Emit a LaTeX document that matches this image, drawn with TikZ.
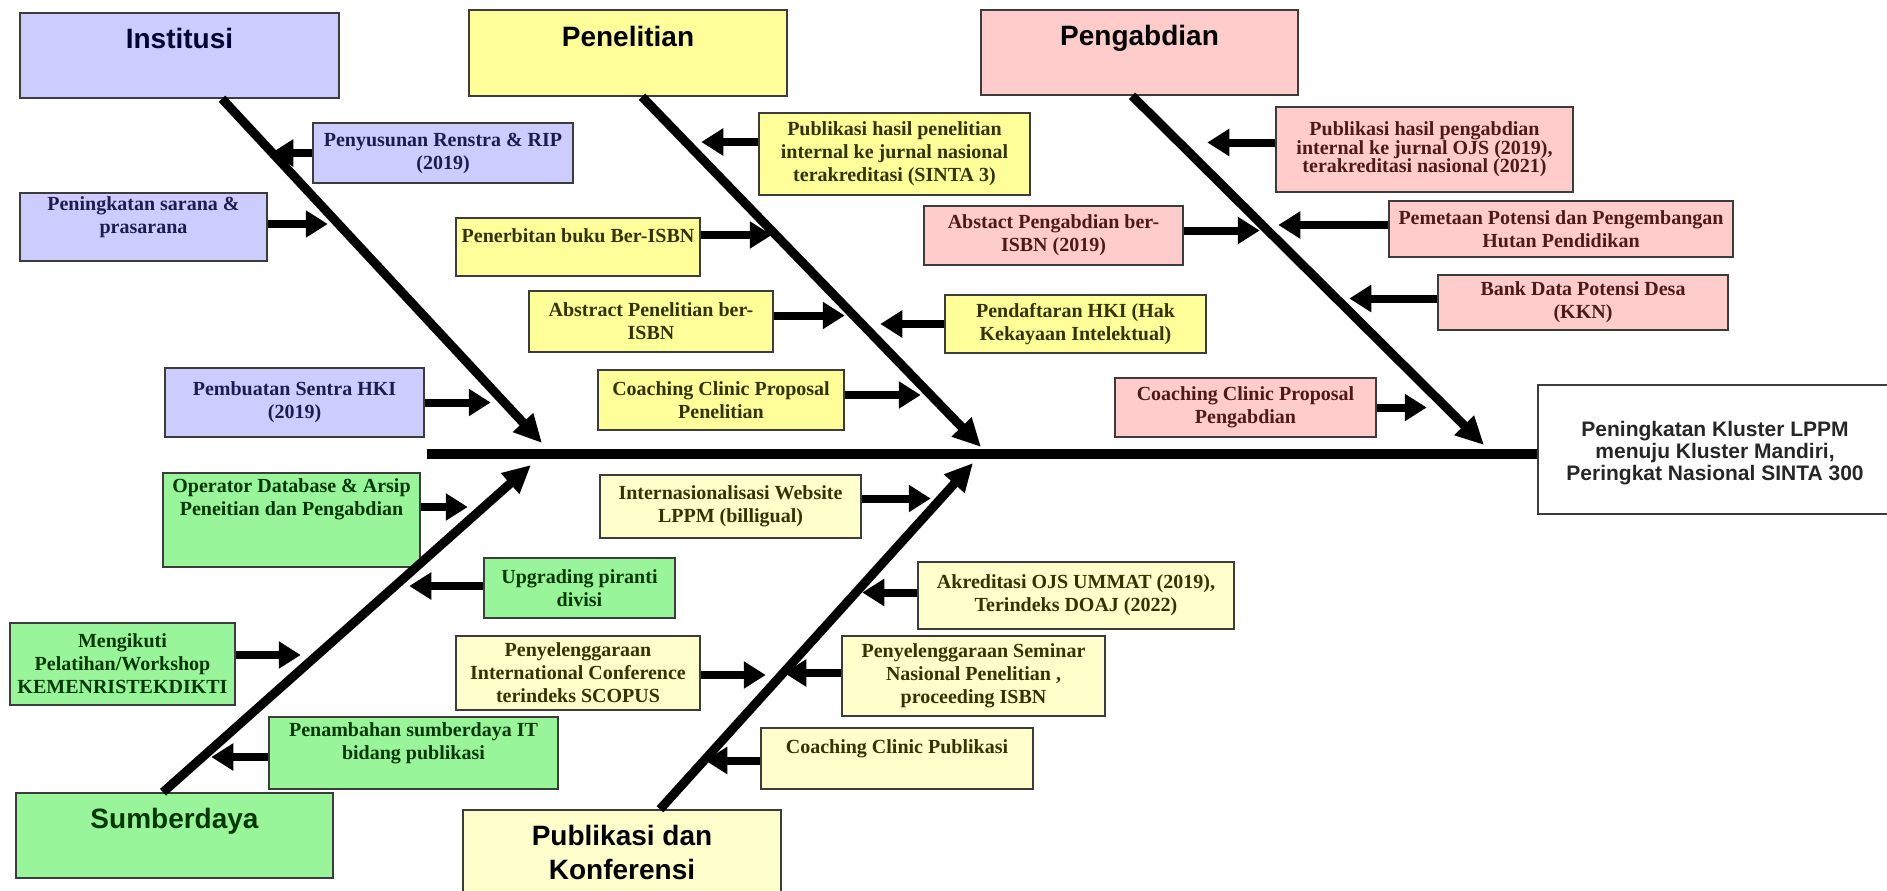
\documentclass[tikz,border=0pt]{standalone}
\usepackage{fontspec}
\setmainfont{Liberation Serif}
\newfontfamily\headfont{Liberation Sans}
\usetikzlibrary{arrows.meta}
\definecolor{instfill}{RGB}{204,204,255}
\definecolor{insttext}{RGB}{28,28,80}
\definecolor{penfill}{RGB}{255,255,153}
\definecolor{pentext}{RGB}{51,51,0}
\definecolor{abdfill}{RGB}{255,204,204}
\definecolor{abdtext}{RGB}{80,25,25}
\definecolor{sdmfill}{RGB}{153,245,153}
\definecolor{sdmtext}{RGB}{0,55,0}
\definecolor{pubfill}{RGB}{255,255,204}
\definecolor{pubtext}{RGB}{51,51,0}
\definecolor{boxline}{RGB}{60,60,60}

\begin{document}
\begin{tikzpicture}[x=1pt,y=-1pt,
  box/.style={draw=boxline,line width=1.5pt,inner sep=2pt,align=center,
    font=\fontsize{20}{23}\selectfont\bfseries},
  head/.style={box,font=\headfont\fontsize{28}{34}\selectfont\bfseries},
  inst/.style={fill=instfill,text=insttext},
  pen/.style={fill=penfill,text=pentext},
  abd/.style={fill=abdfill,text=abdtext},
  sdm/.style={fill=sdmfill,text=sdmtext},
  pub/.style={fill=pubfill,text=pubtext},
  bone/.style={line width=9pt,-{Triangle[length=28pt,width=26pt]}},
  side/.style={line width=8pt,-{Triangle[length=22pt,width=26pt]}}]
\useasboundingbox (0,0) rectangle (1887,891);
\clip (0,0) rectangle (1887,891);
\fill[white] (0,0) rectangle (1887,891);

% kepala tulang
\node[head,inst,text=black!80!blue,minimum width=319pt,minimum height=85pt] (inst) at (179.5,55.5) {Institusi\\ \mbox{}};
\node[head,pen,text=black,minimum width=318pt,minimum height=86pt] (pen) at (628,53) {Penelitian\\ \mbox{}};
\node[head,abd,text=black,minimum width=317pt,minimum height=85pt] (abd) at (1139.5,52.5) {Pengabdian\\ \mbox{}};
\node[head,sdm,text=sdmtext,minimum width=317pt,minimum height=85pt] (sdm) at (174.5,835.5) {Sumberdaya\\ \mbox{}};
\node[head,pub,text=black,minimum width=318pt,minimum height=85pt] (pub) at (622,852.5) {Publikasi dan\\Konferensi};
\node[box,fill=white,text=black!85,minimum width=354pt,minimum height=129pt,
  font=\headfont\fontsize{21}{22}\selectfont\bfseries] (goal) at (1715,449.5)
  {\mbox{}\\Peningkatan Kluster LPPM\\menuju Kluster Mandiri,\\Peringkat Nasional SINTA 300};

% Institusi
\node[box,inst,minimum width=260pt,minimum height=60pt] (renstra) at (443,153) {Penyusunan Renstra \& RIP\\(2019)};
\node[box,inst,minimum width=247pt,minimum height=68pt] (sarana) at (143.5,227) {Peningkatan sarana \&\\prasarana\\ \mbox{}};
\node[box,inst,minimum width=259pt,minimum height=69pt] (sentra) at (294.5,402.5) {Pembuatan Sentra HKI\\(2019)};

% Penelitian
\node[box,pen,minimum width=271pt,minimum height=82pt] (pubpen) at (894.5,154) {Publikasi hasil penelitian\\internal ke jurnal nasional\\terakreditasi (SINTA 3)};
\node[box,pen,minimum width=244pt,minimum height=58pt] (buku) at (578,247) {Penerbitan buku Ber-ISBN\\ \mbox{}};
\node[box,pen,minimum width=244pt,minimum height=61pt] (abspen) at (651,321.5) {Abstract Penelitian ber-\\ISBN};
\node[box,pen,minimum width=246pt,minimum height=60pt] (ccpen) at (721,400) {Coaching Clinic Proposal\\Penelitian};
\node[box,pen,minimum width=261pt,minimum height=58pt] (hki) at (1075.5,324) {Pendaftaran HKI (Hak\\Kekayaan Intelektual)};

% Pengabdian
\node[box,abd,minimum width=297pt,minimum height=85pt,font=\fontsize{20}{18.5}\selectfont\bfseries] (pubabd) at (1424.5,149.5) {Publikasi hasil pengabdian\\internal ke jurnal OJS (2019),\\terakreditasi nasional (2021)};
\node[box,abd,minimum width=259pt,minimum height=59pt] (absabd) at (1053.5,235.5) {Abstact Pengabdian ber-\\ISBN (2019)};
\node[box,abd,minimum width=344pt,minimum height=56pt] (hutan) at (1561,229) {Pemetaan Potensi dan Pengembangan\\Hutan Pendidikan};
\node[box,abd,minimum width=290pt,minimum height=55pt] (bank) at (1583,302.5) {Bank Data Potensi Desa\\(KKN)};
\node[box,abd,minimum width=261pt,minimum height=59pt] (ccabd) at (1245.5,407.5) {Coaching Clinic Proposal\\Pengabdian};

% Sumberdaya
\node[box,sdm,minimum width=257pt,minimum height=94pt] (operator) at (291.5,520) {Operator Database \& Arsip\\Peneitian dan Pengabdian\\ \mbox{}\\ \mbox{}};
\node[box,sdm,minimum width=191pt,minimum height=60pt] (upgrade) at (579.5,588) {Upgrading piranti\\divisi};
\node[box,sdm,minimum width=225pt,minimum height=82pt] (workshop) at (122.5,664) {Mengikuti\\Pelatihan/Workshop\\KEMENRISTEKDIKTI};
\node[box,sdm,minimum width=289pt,minimum height=72pt] (itsdm) at (413.5,753) {Penambahan sumberdaya IT\\bidang publikasi\\ \mbox{}};

% Publikasi dan Konferensi
\node[box,pub,minimum width=261pt,minimum height=63pt] (web) at (730.5,506.5) {Internasionalisasi Website\\LPPM (billigual)};
\node[box,pub,minimum width=316pt,minimum height=67pt] (ojs) at (1076,595.5) {Akreditasi OJS UMMAT (2019),\\Terindeks DOAJ (2022)};
\node[box,pub,minimum width=244pt,minimum height=74pt] (conf) at (578,673) {Penyelenggaraan\\International Conference\\terindeks SCOPUS};
\node[box,pub,minimum width=263pt,minimum height=80pt] (semnas) at (973.5,676) {Penyelenggaraan Seminar\\Nasional Penelitian ,\\proceeding ISBN};
\node[box,pub,minimum width=272pt,minimum height=61pt] (ccpub) at (897,758.5) {Coaching Clinic Publikasi\\ \mbox{}};

% tulang utama
\coordinate (tail) at (427,454);
\draw[line width=10pt] (tail) -- (tail -| goal.west);
\coordinate (inst tip) at (542,443);
\coordinate (pen tip) at (981,447);
\coordinate (abd tip) at (1484,445);
\coordinate (sdm tip) at (531,465);
\coordinate (pub tip) at (973,463);
\draw[bone] ([xshift=42.5pt]inst.south) -- (inst tip);
\draw[bone] ([xshift=14pt]pen.south) -- (pen tip);
\draw[bone] ([xshift=-7.5pt]abd.south) -- (abd tip);
\draw[bone] ([xshift=-11.5pt]sdm.north) -- (sdm tip);
\draw[bone] ([xshift=38pt]pub.north) -- (pub tip);

% panah sebab
\draw[side] (renstra.west) -- ++(-41,0);
\draw[side] ([yshift=3pt]sarana.east) -- ++(60,0);
\draw[side] (sentra.east) -- ++(66,0);
\draw[side] ([yshift=12pt]pubpen.west) -- ++(-57,0);
\draw[side] ([yshift=12pt]buku.east) -- ++(71,0);
\draw[side] ([yshift=6pt]abspen.east) -- ++(71,0);
\draw[side] ([yshift=5pt]ccpen.east) -- ++(76,0);
\draw[side] (hki.west) -- ++(-64,0);
\draw[side] ([yshift=7pt]pubabd.west) -- ++(-68,0);
\draw[side] ([yshift=5pt]absabd.east) -- ++(76,0);
\draw[side] ([yshift=4pt]hutan.west) -- ++(-110,0);
\draw[side] ([yshift=4pt]bank.west) -- ++(-88,0);
\draw[side] (ccabd.east) -- ++(50,0);
\draw[side] ([yshift=13pt]operator.east) -- ++(47,0);
\draw[side] ([yshift=2pt]upgrade.west) -- ++(-74,0);
\draw[side] ([yshift=9pt]workshop.east) -- ++(65,0);
\draw[side] ([yshift=-4pt]itsdm.west) -- ++(-57,0);
\draw[side] ([yshift=8pt]web.east) -- ++(69,0);
\draw[side] ([yshift=3pt]ojs.west) -- ++(-55,0);
\draw[side] ([yshift=-2pt]conf.east) -- ++(65,0);
\draw[side] ([yshift=3pt]semnas.west) -- ++(-57,0);
\draw[side] ([yshift=-2pt]ccpub.west) -- ++(-55,0);
\end{tikzpicture}
\end{document}
